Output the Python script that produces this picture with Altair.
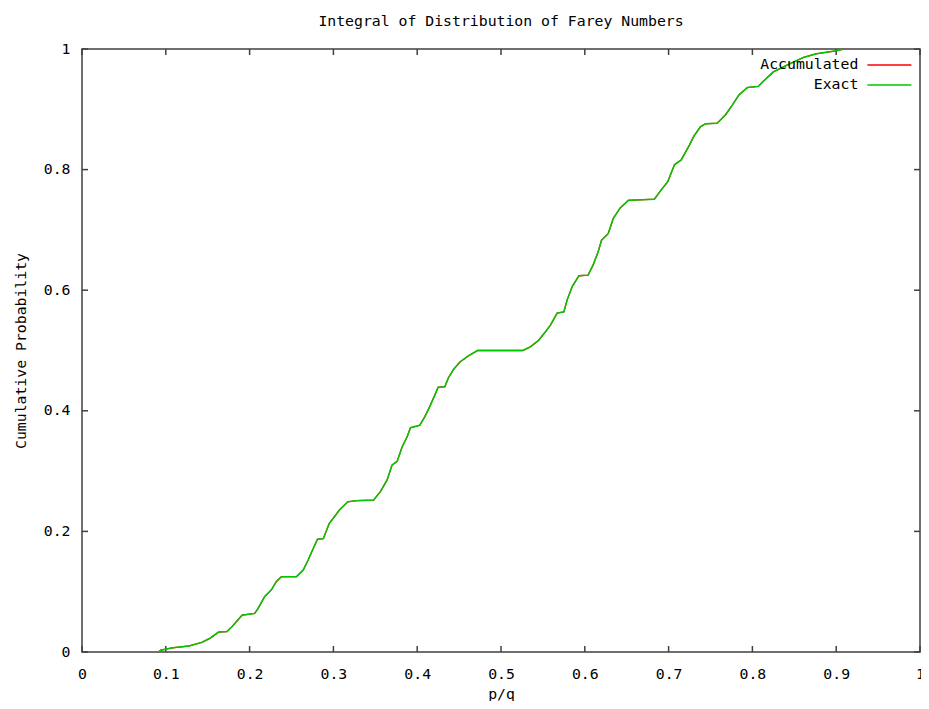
import altair as alt
import pandas as pd

# ---- text ----
title_text = "Integral of Distribution of Farey Numbers"
x_title = "p/q"
y_title = "Cumulative Probability"
series_names = ["Accumulated", "Exact"]
series_colors = ["#ff0000", "#00c800"]

# ---- ticks ----
x_ticks = [0, 0.1, 0.2, 0.3, 0.4, 0.5, 0.6, 0.7, 0.8, 0.9, 1]
y_ticks = [0, 0.2, 0.4, 0.6, 0.8, 1]

# ---- series values ----
exact_x = [0.091, 0.094, 0.108, 0.128, 0.143, 0.153, 0.163, 0.173, 0.179, 0.191,
           0.206, 0.210, 0.218, 0.226, 0.232, 0.238, 0.256, 0.264, 0.270, 0.277,
           0.281, 0.288, 0.295, 0.301, 0.307, 0.317, 0.327, 0.348, 0.356, 0.364,
           0.370, 0.376, 0.382, 0.388, 0.392, 0.403, 0.409, 0.415, 0.421, 0.425,
           0.433, 0.437, 0.443, 0.451, 0.461, 0.472, 0.526, 0.535, 0.545, 0.553,
           0.559, 0.567, 0.575, 0.579, 0.585, 0.593, 0.604, 0.610, 0.616, 0.620,
           0.628, 0.634, 0.642, 0.652, 0.683, 0.691, 0.699, 0.707, 0.715, 0.725,
           0.730, 0.738, 0.744, 0.758, 0.768, 0.776, 0.784, 0.794, 0.807, 0.815,
           0.825, 0.841, 0.861, 0.876, 0.900, 0.909]
exact_y = [0.000, 0.003, 0.007, 0.010, 0.016, 0.023, 0.033, 0.034, 0.042, 0.061,
           0.064, 0.072, 0.092, 0.103, 0.117, 0.125, 0.125, 0.136, 0.153, 0.175,
           0.187, 0.188, 0.213, 0.224, 0.235, 0.249, 0.251, 0.252, 0.266, 0.285,
           0.310, 0.316, 0.340, 0.357, 0.372, 0.376, 0.390, 0.407, 0.426, 0.439,
           0.440, 0.454, 0.468, 0.481, 0.491, 0.500, 0.500, 0.506, 0.517, 0.531,
           0.542, 0.562, 0.564, 0.584, 0.606, 0.624, 0.625, 0.642, 0.664, 0.683,
           0.694, 0.719, 0.736, 0.749, 0.751, 0.766, 0.780, 0.808, 0.816, 0.841,
           0.855, 0.871, 0.876, 0.877, 0.891, 0.907, 0.924, 0.936, 0.938, 0.949,
           0.962, 0.973, 0.986, 0.992, 0.997, 1.000]
# the accumulated estimate overlaps the exact curve at this resolution
accumulated_x = list(exact_x)
accumulated_y = list(exact_y)

W, H = 838, 603
FONT = "DejaVu Sans Mono"
FS = 14.8
FRAME = "#404040"

df_acc = pd.DataFrame({"x": accumulated_x, "y": accumulated_y, "series": series_names[0]})
df_ex = pd.DataFrame({"x": exact_x, "y": exact_y, "series": series_names[1]})
df_xt = pd.DataFrame({"x": x_ticks})
df_yt = pd.DataFrame({"y": y_ticks})

xs = alt.Scale(domain=[0, 1], nice=False, zero=False)
ys = alt.Scale(domain=[0, 1], nice=False, zero=False)

xaxis = alt.Axis(values=x_ticks, format="~g", labelPadding=14, tickSize=0,
                 labelFlush=False, labelOverlap=False, title=x_title,
                 titleY=46, titleBaseline="alphabetic")
yaxis = alt.Axis(values=y_ticks, format="~g", labelPadding=12, tickSize=0,
                 labelFlush=False, labelOverlap=False, title=y_title,
                 titleX=-57, titleY=H / 2, titleAngle=270, titleAlign="center",
                 titleBaseline="alphabetic")

xenc = alt.X("x:Q", scale=xs, axis=xaxis)
yenc = alt.Y("y:Q", scale=ys, axis=yaxis)

legend = alt.Legend(orient="none", legendX=800, legendY=8.5, title=None,
                    labelAlign="right", labelOffset={"expr": "-38.5"},
                    symbolType="M-4.4,0H4.4", symbolSize=100, symbolStrokeWidth=1.5,
                    labelFont=FONT, labelFontSize=FS, labelColor="#000",
                    rowPadding=4, padding=0, labelLimit=0)
color = alt.Color("series:N", scale=alt.Scale(domain=series_names, range=series_colors),
                  legend=legend)

line_acc = alt.Chart(df_acc).mark_line(strokeWidth=1.3).encode(x=xenc, y=yenc, color=color)
line_ex = alt.Chart(df_ex).mark_line(strokeWidth=1.5).encode(x=xenc, y=yenc, color=color)

tick_style = dict(color=FRAME, strokeWidth=1.5)
x_bottom = alt.Chart(df_xt).mark_rule(**tick_style).encode(x=xenc, y=alt.value(H), y2=alt.value(H - 6))
x_top = alt.Chart(df_xt).mark_rule(**tick_style).encode(x=xenc, y=alt.value(0), y2=alt.value(6))
y_left = alt.Chart(df_yt).mark_rule(**tick_style).encode(y=yenc, x=alt.value(0), x2=alt.value(6))
y_right = alt.Chart(df_yt).mark_rule(**tick_style).encode(y=yenc, x=alt.value(W), x2=alt.value(W - 6))

chart = alt.layer(x_bottom, x_top, y_left, y_right, line_acc, line_ex).properties(
    width=W,
    height=H,
    autosize=alt.AutoSizeParams(type="none"),
    padding={"left": 74, "top": 41, "right": 1, "bottom": 49},
    title=alt.TitleParams(text=title_text, font=FONT, fontSize=FS, fontWeight="normal",
                          anchor="middle", offset=0, baseline="alphabetic", color="#000"),
).configure_view(
    stroke=FRAME, strokeWidth=1.5
).configure_axis(
    grid=False, domain=False, ticks=False,
    labelFont=FONT, labelFontSize=FS, labelColor="#000",
    titleFont=FONT, titleFontSize=FS, titleFontWeight="normal", titleColor="#000"
)

chart.save("out.html", embed_options={"renderer": "svg", "actions": False})
